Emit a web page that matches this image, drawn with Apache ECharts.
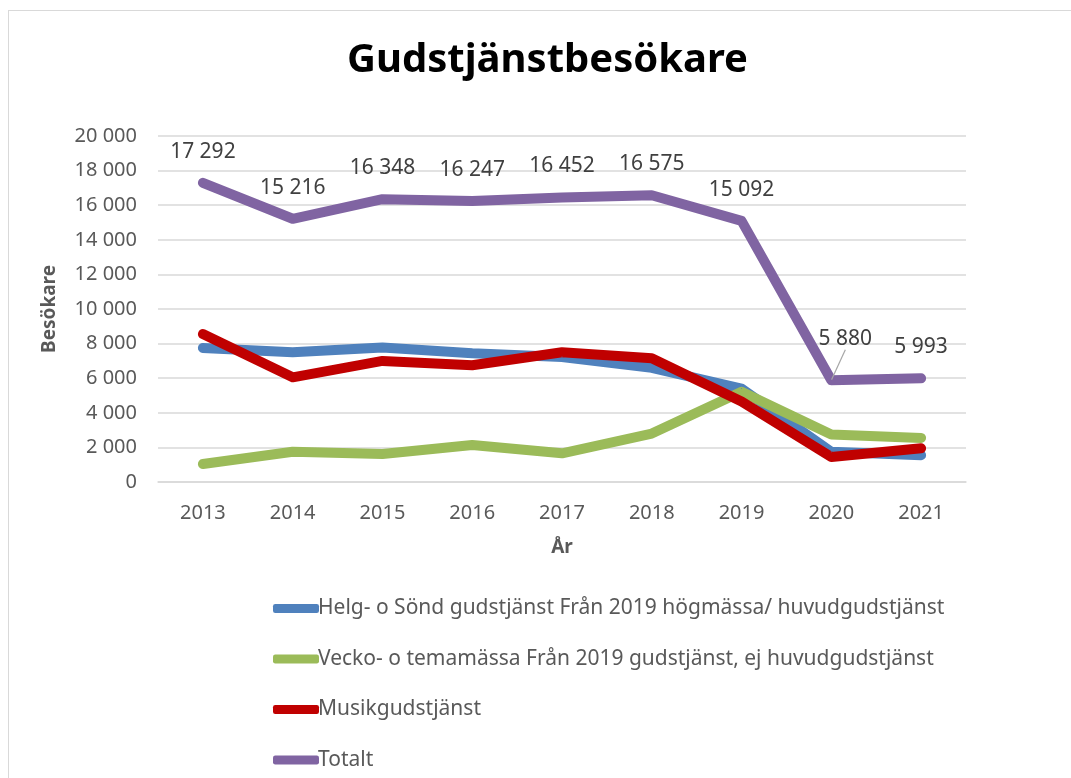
<!DOCTYPE html>
<html>
<head>
<meta charset="utf-8">
<script src="https://cdn.jsdelivr.net/npm/echarts@6/dist/echarts.min.js"></script>
<style>
  html, body { margin: 0; padding: 0; background: #fff; }
  #frame { position: absolute; left: 8px; top: 10px; width: 1100px; height: 800px; border: 1.5px solid #d9d9d9; }
  #main { position: absolute; left: 0; top: 0; width: 1071px; height: 778px; }
</style>
</head>
<body>
<div id="frame"></div>
<div id="main"></div>
<script>
var years = ['2013', '2014', '2015', '2016', '2017', '2018', '2019', '2020', '2021']
var seriesNames = [
  'Helg- o Sönd gudstjänst Från 2019 högmässa/ huvudgudstjänst',
  'Vecko- o temamässa Från 2019 gudstjänst, ej huvudgudstjänst',
  'Musikgudstjänst',
  'Totalt'
]
var helg = [7750, 7500, 7780, 7440, 7220, 6600, 5400, 1750, 1550]
var vecko = [1040, 1750, 1620, 2140, 1660, 2800, 5220, 2750, 2550]
var musik = [8550, 6050, 7000, 6750, 7500, 7150, 4650, 1450, 1950]
var totalt = [17292, 15216, 16348, 16247, 16452, 16575, 15092, 5880, 5993]
var colors = ['#4F81BD', '#9BBB59', '#C00000', '#8064A2']

var font = 'Noto Sans'

// tal med mellanslag som tusentalsavgränsare
function fmt (v) {
  return String(v).replace(/\B(?=(\d{3})+(?!\d))/g, ' ')
}

function lineSeries (name, data, color) {
  return {
    name: name,
    type: 'line',
    data: data,
    symbol: 'circle',
    symbolSize: 1,
    showSymbol: true,
    lineStyle: { width: 10, color: color, cap: 'round', join: 'round' },
    itemStyle: { color: color },
    z: 2
  }
}

// bara 2020 har en hänvisningslinje
var totaltData = totalt.map(function (v, i) {
  if (i === 7) return { value: v, labelLine: { show: true } }
  return v
})

var series = [
  lineSeries(seriesNames[0], helg, colors[0]),
  lineSeries(seriesNames[1], vecko, colors[1]),
  lineSeries(seriesNames[2], musik, colors[2]),
  lineSeries(seriesNames[3], totaltData, colors[3])
]
series[3].label = {
  show: true,
  position: 'top',
  distance: 20,
  fontFamily: font,
  fontSize: 21,
  color: '#404040',
  formatter: function (p) { return fmt(p.value) }
}
series[3].labelLine = { show: false, lineStyle: { color: '#a6a6a6', width: 1.2 } }
series[3].labelLayout = function (p) {
  if (p.dataIndex === 7) return { dx: 14, dy: -10 }
  return {}
}

var chart = echarts.init(document.getElementById('main'), null, { renderer: 'canvas' })
chart.setOption({
  animation: false,
  title: {
    text: 'Gudstjänstbesökare',
    left: 342,
    top: 36,
    textStyle: { fontFamily: font, fontSize: 40, fontWeight: 'bold', color: '#000' }
  },
  grid: { left: 158, right: 105, top: 136, bottom: 296 },
  xAxis: {
    type: 'category',
    data: years,
    name: 'År',
    nameLocation: 'middle',
    nameGap: 56,
    nameTextStyle: { fontFamily: font, fontSize: 19, fontWeight: 'bold', color: '#595959' },
    axisLine: { lineStyle: { color: '#d9d9d9', width: 1.5 } },
    axisTick: { show: false },
    axisLabel: { margin: 21, fontFamily: font, fontSize: 20, color: '#595959' }
  },
  yAxis: {
    type: 'value',
    min: 0,
    max: 20000,
    interval: 2000,
    name: 'Besökare',
    nameLocation: 'middle',
    nameGap: 99,
    nameTextStyle: { fontFamily: font, fontSize: 19, fontWeight: 'bold', color: '#595959' },
    axisLine: { show: false },
    axisTick: { show: false },
    splitLine: { lineStyle: { color: '#d9d9d9', width: 1.5 } },
    axisLabel: { margin: 21, fontFamily: font, fontSize: 20, color: '#595959', formatter: fmt }
  },
  legend: {
    orient: 'vertical',
    left: 268,
    top: 593,
    itemWidth: 46,
    itemHeight: 9,
    itemGap: 29.5,
    icon: 'roundRect',
    textStyle: { fontFamily: font, fontSize: 21, color: '#595959', padding: [0, 0, 0, -6] },
    data: seriesNames
  },
  series: series
})
</script>
</body>
</html>
